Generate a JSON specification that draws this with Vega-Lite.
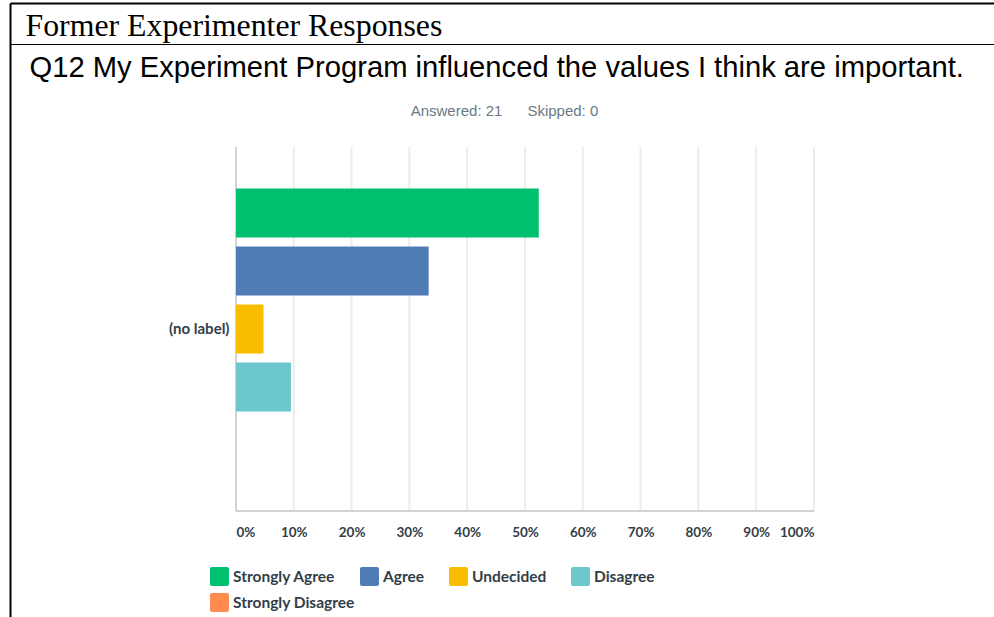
{
  "$schema": "https://vega.github.io/schema/vega-lite/v6.json",
  "width": 984,
  "height": 614,
  "autosize": {"type": "none"},
  "padding": {"left": 10, "top": 3, "right": 0, "bottom": 0},
  "background": "white",
  "config": {"view": {"stroke": null}},
  "resolve": {"axis": {"x": "independent"}, "scale": {"color": "independent"}},
  "layer": [
    {
      "data": {"values": [{"tick": 0}, {"tick": 0.1}, {"tick": 0.2}, {"tick": 0.3}, {"tick": 0.4}, {"tick": 0.5}, {"tick": 0.6}, {"tick": 0.7}, {"tick": 0.8}, {"tick": 0.9}, {"tick": 1}]},
      "mark": {"type": "tick", "orient": "vertical", "thickness": 2, "size": 364, "opacity": 1},
      "encoding": {
        "x": {
          "field": "tick", "type": "quantitative",
          "scale": {"domain": [-0.391, 1.31142], "zero": false, "nice": false},
          "axis": {"orient": "top", "offset": 0, "labels": false, "ticks": false, "grid": false, "domain": true, "domainColor": "#000000", "domainWidth": 2,
            "title": "Former Experimenter Responses", "titleFont": "Liberation Serif", "titleFontSize": 31.8, "titleFontWeight": "normal", "titleColor": "#000000",
            "titleAlign": "left", "titleBaseline": "alphabetic", "titleAngle": 0, "titleX": 15, "titleY": 32, "titleLimit": 2000}
        },
        "y": {"datum": "(no label)", "type": "nominal", "scale": {"paddingOuter": 0.343407, "paddingInner": 0, "align": 0.576}},
        "color": {"condition": {"test": "datum.tick === 0", "value": "#d3d3d3"}, "value": "#ececec"}
      }
    },
    {
      "data": {"values": [
        {"question": "(no label)", "answer": "Strongly Agree", "pct": 0.5238},
        {"question": "(no label)", "answer": "Agree", "pct": 0.3333},
        {"question": "(no label)", "answer": "Undecided", "pct": 0.0476},
        {"question": "(no label)", "answer": "Disagree", "pct": 0.0952},
        {"question": "(no label)", "answer": "Strongly Disagree", "pct": 0}
      ]},
      "mark": {"type": "bar"},
      "encoding": {
        "x": {
          "field": "pct", "type": "quantitative",
          "scale": {"domain": [-0.391, 1.31142], "zero": false, "nice": false},
          "axis": {"orient": "bottom", "offset": -106, "values": [0, 0.1, 0.2, 0.3, 0.4, 0.5, 0.6, 0.7, 0.8, 0.9, 1], "format": ".0%",
            "domain": false, "ticks": false, "tickSize": 0, "grid": false, "labelPadding": 14, "labelFlush": false, "labelOverlap": false, "labelBound": false,
            "labelFont": "Lato", "labelFontWeight": "bold", "labelFontSize": 13.5, "labelColor": "#333e48",
            "labelAlign": {"expr": "datum.value === 0 ? 'left' : (datum.value === 1 ? 'right' : 'center')"},
            "title": "Answered: 21\u00a0\u00a0\u00a0\u00a0\u00a0\u00a0Skipped: 0", "titleFont": "Liberation Sans", "titleFontSize": 15, "titleFontWeight": "normal", "titleColor": "#6b7a86",
            "titleAlign": "center", "titleBaseline": "alphabetic", "titleAngle": 0, "titleX": 494, "titleY": -396, "titleLimit": 2000}
        },
        "y": {
          "field": "question", "type": "nominal",
          "scale": {"paddingOuter": 0.343407, "paddingInner": 0, "align": 0.576},
          "axis": {"orient": "left", "offset": 0, "title": null, "domain": true, "domainColor": "#000000", "domainWidth": 2, "ticks": false, "tickSize": 0, "grid": false,
            "labelPadding": -219, "labelAlign": "right", "labelBaseline": "middle", "labelFont": "Lato", "labelFontWeight": "bold", "labelFontSize": 15, "labelColor": "#333e48"}
        },
        "yOffset": {
          "field": "answer", "type": "nominal",
          "scale": {"domain": ["Strongly Agree", "Agree", "Undecided", "Disagree", "Strongly Disagree"], "paddingInner": 0.155, "paddingOuter": 0.7155}
        },
        "color": {
          "field": "answer", "type": "nominal",
          "scale": {"domain": ["Strongly Agree", "Agree", "Undecided", "Disagree", "Strongly Disagree"], "range": ["#00bf6f", "#507cb6", "#f9be00", "#6bc8cd", "#ff8b4f"]},
          "legend": {"orient": "none", "legendX": 200, "legendY": 564, "direction": "horizontal", "columns": 4, "title": null,
            "values": ["Strongly Agree", "Agree", "Undecided", "Disagree"],
            "symbolType": "M-1,-0.78Q-1,-1,-0.78,-1L0.78,-1Q1,-1,1,-0.78L1,0.78Q1,1,0.78,1L-0.78,1Q-1,1,-1,0.78Z",
            "symbolSize": 361, "symbolStrokeWidth": 0, "symbolOpacity": 1,
            "labelFont": "Lato", "labelFontWeight": "bold", "labelFontSize": 15.5, "labelColor": "#333e48", "labelOffset": 4, "labelLimit": 400,
            "columnPadding": 24, "rowPadding": 7, "padding": 0}
        }
      }
    },
    {
      "data": {"values": [{"answer": "Strongly Disagree", "pct": 0}]},
      "mark": {"type": "bar"},
      "encoding": {
        "x": {
          "field": "pct", "type": "quantitative",
          "scale": {"domain": [-0.391, 1.31142], "zero": false, "nice": false},
          "axis": null
        },
        "x2": {"datum": 0},
        "color": {
          "field": "answer", "type": "nominal",
          "scale": {"domain": ["Strongly Disagree"], "range": ["#ff8b4f"]},
          "legend": {"orient": "none", "legendX": 200, "legendY": 590, "direction": "horizontal", "title": null,
            "symbolType": "M-1,-0.78Q-1,-1,-0.78,-1L0.78,-1Q1,-1,1,-0.78L1,0.78Q1,1,0.78,1L-0.78,1Q-1,1,-1,0.78Z",
            "symbolSize": 361, "symbolStrokeWidth": 0, "symbolOpacity": 1,
            "labelFont": "Lato", "labelFontWeight": "bold", "labelFontSize": 15.5, "labelColor": "#333e48", "labelOffset": 4, "labelLimit": 400,
            "padding": 0}
        }
      }
    },
    {
      "data": {"values": [{}]},
      "mark": {"type": "rule", "color": "#d3d3d3", "strokeWidth": 2},
      "encoding": {
        "x": {
          "datum": 0, "type": "quantitative",
          "scale": {"domain": [-0.391, 1.31142], "zero": false, "nice": false},
          "axis": {"orient": "top", "offset": -41, "labels": false, "ticks": false, "grid": false, "domain": true, "domainColor": "#000000", "domainWidth": 1,
            "title": "Q12 My Experiment Program influenced the values I think are important.", "titleFont": "Liberation Sans", "titleFontSize": 29.2, "titleFontWeight": "normal", "titleColor": "#000000",
            "titleAlign": "left", "titleBaseline": "alphabetic", "titleAngle": 0, "titleX": 19, "titleY": 32, "titleLimit": 2000}
        },
        "x2": {"datum": 1},
        "y": {"datum": "(no label)", "type": "nominal", "bandPosition": 1, "scale": {"paddingOuter": 0.343407, "paddingInner": 0, "align": 0.576}}
      }
    }
  ]
}
